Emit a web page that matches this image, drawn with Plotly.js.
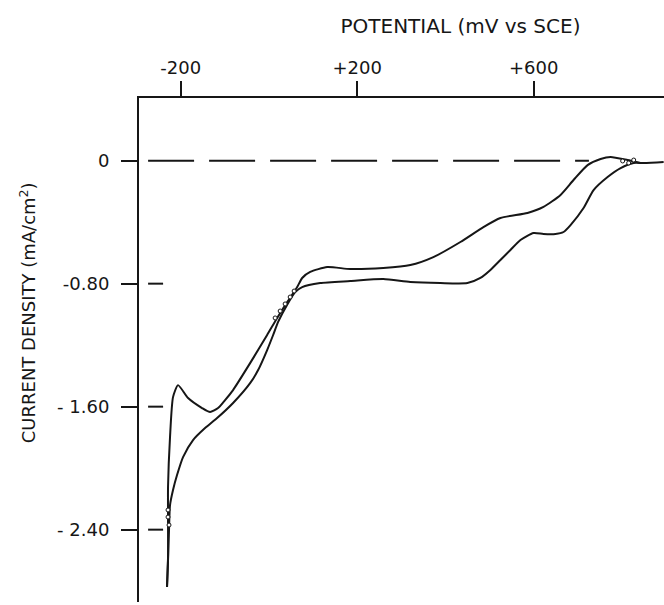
<!DOCTYPE html>
<html>
<head>
<meta charset="utf-8">
<script src="https://cdn.plot.ly/plotly-3.0.1.min.js"></script>
<style>html,body{margin:0;padding:0;background:#fff;}#chart{width:664px;height:605px;}</style>
</head>
<body>
<div id="chart"></div>
<script>
// Branch A: from the negative vertex, through the small peak, upper plateau, to the anodic end
const branchA_mV = [-231.1, -228.8, -228.8, -228.8, -224.3, -217.5, -206.1, -183.4, -151.7, -133.5, -115.4, -99.5, -81.4, -42.8, -4.2, 18.5, 41.2, 63.9, 75.2, 93.4, 132.0, 184.2, 259.0, 320.3, 372.5, 433.8, 486.0, 524.5, 585.8, 622.1, 660.7, 690.2, 722.0, 751.5, 774.2, 812.7, 842.2, 894.4];
const branchA_j  = [-2.773, -2.578, -2.337, -2.123, -1.798, -1.538, -1.460, -1.544, -1.609, -1.635, -1.609, -1.557, -1.492, -1.317, -1.134, -1.023, -0.920, -0.822, -0.763, -0.724, -0.692, -0.705, -0.698, -0.679, -0.627, -0.529, -0.432, -0.373, -0.340, -0.301, -0.223, -0.126, -0.029, 0.011, 0.024, 0.004, -0.015, -0.009];

// Branch B: from the negative vertex, lower left curve, lower plateau with the shoulder, to the anodic end
const branchB_mV = [-231.1, -228.8, -226.6, -224.3, -217.5, -208.4, -194.8, -172.1, -144.9, -117.6, -81.4, -42.8, -24.6, -4.2, 9.4, 20.7, 41.2, 59.3, 75.2, 116.0, 184.2, 259.0, 320.3, 388.4, 449.6, 479.1, 501.8, 524.5, 547.2, 569.9, 599.4, 622.1, 649.3, 667.5, 683.4, 712.9, 735.6, 767.4, 796.9, 826.4, 842.2];
const branchB_j  = [-2.773, -2.598, -2.403, -2.240, -2.142, -2.045, -1.928, -1.817, -1.739, -1.674, -1.576, -1.447, -1.362, -1.232, -1.134, -1.049, -0.937, -0.855, -0.822, -0.796, -0.783, -0.770, -0.789, -0.796, -0.796, -0.763, -0.711, -0.646, -0.581, -0.516, -0.471, -0.477, -0.477, -0.464, -0.419, -0.308, -0.191, -0.106, -0.048, -0.015, -0.015];

// small open circles seen on the trace
const dots_mV = [13.9, 25.3, 36.6, 48.0, 57.0, -228.8, -228.8, -226.6, 801.5, 815.2, 826.6];
const dots_j  = [-1.023, -0.978, -0.932, -0.887, -0.848, -2.272, -2.318, -2.370, -0.002, -0.015, 0.004];

// axis ticks
const xTickVals = [-200, 200, 600];
const xTickText = ['-200', '+200', '+600'];
const yTickVals = [0, -0.8, -1.6, -2.4];
const yTickText = ['0', '-0.80', '- 1.60', '- 2.40'];

// zero reference line extent
const ZERO_X0 = -274, ZERO_X1 = 725;
const GUIDE_X1 = -240;

const ink = '#161616';
const FONT = 'DejaVu Sans';

const guideX = [], guideY = [];
yTickVals.filter(v => v !== 0).forEach(v => {
  guideX.push(ZERO_X0, GUIDE_X1, null);
  guideY.push(v, v, null);
});

const traces = [
  {x: [ZERO_X0, ZERO_X1], y: [0, 0], mode: 'lines', line: {color: ink, width: 2, dash: '46px,15px'}, hoverinfo: 'skip'},
  {x: guideX, y: guideY, mode: 'lines', line: {color: ink, width: 2}, hoverinfo: 'skip'},
  {x: branchA_mV, y: branchA_j, mode: 'lines', line: {color: ink, width: 2, shape: 'spline', smoothing: 0.6}},
  {x: branchB_mV, y: branchB_j, mode: 'lines', line: {color: ink, width: 2, shape: 'spline', smoothing: 0.6}},
  {x: dots_mV, y: dots_j, mode: 'markers', marker: {symbol: 'circle', size: 4, color: '#fff', line: {color: ink, width: 1}}}
];

const layout = {
  width: 664, height: 605,
  margin: {l: 139, r: 0, t: 98, b: 3},
  paper_bgcolor: '#fff', plot_bgcolor: '#fff',
  showlegend: false,
  font: {family: FONT, color: ink, size: 18},
  title: {text: 'POTENTIAL (mV vs SCE)', font: {family: FONT, size: 20, color: ink},
          xref: 'container', yref: 'container', x: 0.6935, xanchor: 'center', y: 0.957, yanchor: 'middle'},
  xaxis: {
    side: 'top', range: [-294.6, 895.2], showgrid: false, zeroline: false,
    showline: true, linecolor: ink, linewidth: 2,
    tickmode: 'array', tickvals: xTickVals, ticktext: xTickText,
    ticks: 'outside', ticklen: 15, tickwidth: 2, tickcolor: ink,
    tickfont: {family: FONT, size: 18, color: ink}
  },
  yaxis: {
    range: [-2.8705, 0.4075], showgrid: false, zeroline: false,
    showline: true, linecolor: ink, linewidth: 2,
    tickmode: 'array', tickvals: yTickVals, ticktext: yTickText,
    ticks: 'outside', ticklen: 16, tickwidth: 2, tickcolor: ink,
    ticklabelstandoff: 8,
    tickfont: {family: FONT, size: 18, color: ink}
  },
  annotations: [{
    text: 'CURRENT DENSITY (mA/cm<sup>2</sup>)', textangle: -90,
    xref: 'paper', yref: 'paper', x: -0.2114, y: 0.573, xanchor: 'center', yanchor: 'middle',
    showarrow: false, font: {family: FONT, size: 18, color: ink}
  }]
};

Plotly.newPlot('chart', traces, layout, {displayModeBar: false, staticPlot: true});
</script>
</body>
</html>
